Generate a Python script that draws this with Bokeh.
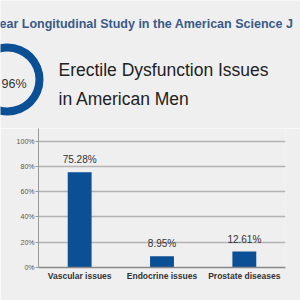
from bokeh.plotting import figure
from bokeh.layouts import column, row
from bokeh.models import Range1d, FactorRange, FixedTicker, ColumnDataSource, CustomJSTickFormatter
from bokeh.core.properties import value
from bokeh.embed import file_html
from bokeh.resources import INLINE

title_text = "ear Longitudinal Study in the American Science J"
heading_lines = ["Erectile Dysfunction Issues", "in American Men"]
donut_label = "96%"
categories = ["Vascular issues", "Endocrine issues", "Prostate diseases"]
values = [75.28, 8.95, 12.61]
labels = ["75.28%", "8.95%", "12.61%"]
y_ticks = [0, 20, 40, 60, 80, 100]

BG = "#efefef"
BLUE = "#0b4f95"
FONT = value("Liberation Sans")

# ---- top header figure (pixel coordinates) ----
top = figure(width=300, height=128, x_range=Range1d(0, 300), y_range=Range1d(128, 0),
             output_backend="svg", toolbar_location=None, min_border=0,
             x_axis_location=None, y_axis_location=None)
top.grid.visible = False
top.outline_line_color = None
top.background_fill_color = BG
top.border_fill_color = BG

top.text(x=[-1], y=[23], text=[title_text], text_font=FONT, text_font_size="12.5px",
         text_font_style="bold", text_color="#3a5a88", text_baseline="middle", text_align="left")
top.annulus(x=[7], y=[79], inner_radius=28, outer_radius=36, fill_color=BLUE, line_color=None)
top.text(x=[1], y=[83], text=[donut_label], text_font=FONT, text_font_size="12.5px",
         text_color="#333333", text_baseline="middle", text_align="left")
top.text(x=[58, 58], y=[69, 98], text=heading_lines, text_font=FONT, text_font_size="17.5px",
         text_color="#222222", text_baseline="middle", text_align="left")

# ---- bar chart ----
p = figure(width=300, height=172, x_range=FactorRange(*categories, range_padding=0),
           y_range=Range1d(0, 110), output_backend="svg", toolbar_location=None,
           min_border_left=38, min_border_right=15, min_border_top=0, min_border_bottom=33)
p.background_fill_color = BG
p.border_fill_color = BG
p.outline_line_color = None

src = ColumnDataSource(dict(cat=categories, val=values, lab=labels))
p.vbar(x="cat", top="val", width=0.29, source=src, fill_color=BLUE, line_color=None)
p.text(x="cat", y="val", text="lab", source=src, text_font=FONT, text_font_size="10px",
       text_color="#333333", text_align="center", text_baseline="bottom", y_offset=-7)

p.yaxis.ticker = FixedTicker(ticks=y_ticks)
p.yaxis.formatter = CustomJSTickFormatter(code="return tick + '%';")
p.yaxis.major_label_text_font = "Liberation Sans"
p.yaxis.major_label_text_font_size = "7px"
p.yaxis.major_label_text_color = "#555555"
p.yaxis.major_tick_in = 0
p.yaxis.major_tick_out = 3
p.yaxis.minor_tick_line_color = None
p.yaxis.axis_line_color = "#999999"
p.yaxis.major_tick_line_color = "#999999"
p.yaxis.major_label_standoff = 1

p.xaxis.major_tick_line_color = None
p.xaxis.major_tick_out = 0
p.xaxis.major_tick_in = 0
p.xaxis.axis_line_color = "#888888"
p.xaxis.axis_line_width = 1.5
p.xaxis.major_label_text_font = "Liberation Sans"
p.xaxis.major_label_text_font_size = "8.5px"
p.xaxis.major_label_text_font_style = "bold"
p.xaxis.major_label_text_color = "#333333"
p.xaxis.major_label_standoff = 3

p.xgrid.grid_line_color = None
p.ygrid.grid_line_color = "#b3b3b3"
p.ygrid.grid_line_width = 1.5

layout = column(row(top), row(p), spacing=0)
open("out.html", "w").write(file_html(layout, INLINE))
